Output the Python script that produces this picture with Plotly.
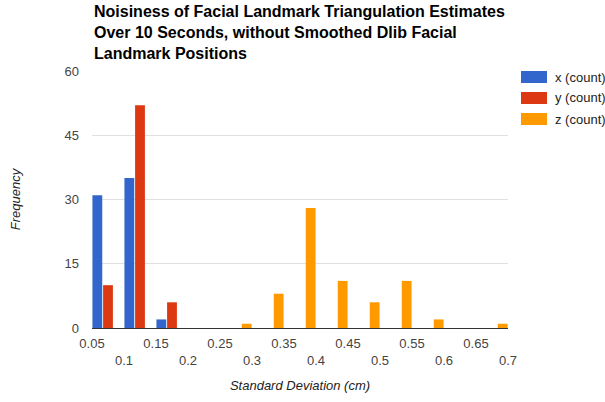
import plotly.graph_objects as go

bins = [0.075, 0.125, 0.175, 0.225, 0.275, 0.325, 0.375, 0.425, 0.475, 0.525, 0.575, 0.625, 0.675]
x_count = [31, 35, 2, 0, 0, 0, 0, 0, 0, 0, 0, 0, 0]
y_count = [10, 52, 6, 0, 0, 0, 0, 0, 0, 0, 0, 0, 0]
z_count = [0, 0, 0, 0, 1, 8, 28, 11, 6, 11, 2, 0, 1]
series_names = ["x (count)", "y (count)", "z (count)"]
colors = ["#3366cc", "#dc3912", "#ff9900"]
tick_vals = [0.05, 0.1, 0.15, 0.2, 0.25, 0.3, 0.35, 0.4, 0.45, 0.5, 0.55, 0.6, 0.65, 0.7]
tick_labels = ["0.05", "0.1", "0.15", "0.2", "0.25", "0.3", "0.35", "0.4", "0.45", "0.5", "0.55", "0.6", "0.65", "0.7"]
title_text = ("Noisiness of Facial Landmark Triangulation Estimates<br>"
              "Over 10 Seconds, without Smoothed Dlib Facial<br>Landmark Positions")

FONT = "Liberation Sans, Arial, sans-serif"
PL, PR, PT, PB = 92, 508, 71, 328
PW, PH = PR - PL, PB - PT

fig = go.Figure()
for name, vals, c in zip(series_names, [x_count, y_count, z_count], colors):
    fig.add_trace(go.Bar(x=bins, y=vals, name=name, marker=dict(color=c, line=dict(width=0)),
                         showlegend=False))

ticktext = [t if i % 2 == 0 else "<br>" + t for i, t in enumerate(tick_labels)]

fig.update_layout(
    width=605, height=402,
    margin=dict(l=PL, r=605 - PR, t=PT, b=402 - PB),
    paper_bgcolor="white", plot_bgcolor="white",
    barmode="group", bargap=0.0, bargroupgap=0.08,
    font=dict(family=FONT, size=13, color="#444"),
    xaxis=dict(range=[0.05, 0.7], tickmode="array", tickvals=tick_vals, ticktext=ticktext,
               showgrid=False, showline=True, linecolor="#333", linewidth=1,
               ticks="", zeroline=False, ticklabelstandoff=3,
               title=dict(text="<i>Standard Deviation (cm)</i>", font=dict(size=13, color="#222"), standoff=14)),
    yaxis=dict(range=[0, 60], tickvals=[0, 15, 30, 45, 60], showgrid=True, gridcolor="#e0e0e0",
               zeroline=False, showline=False, ticks="", ticklabelstandoff=12,
               title=dict(text="<i>Frequency</i>", font=dict(size=13, color="#222"), standoff=40)),
)

fig.add_annotation(xref="paper", yref="paper", x=0, y=(PB - 32.5) / PH,
                   text=title_text, showarrow=False, xanchor="left", yanchor="middle",
                   align="left", font=dict(family=FONT, size=16, color="#000", weight="bold"))

# legend drawn as swatches + labels
for i, (name, c) in enumerate(zip(series_names, colors)):
    yc = 77 + 21 * i
    fig.add_shape(type="rect", xref="paper", yref="paper",
                  x0=(521 - PL) / PW, x1=(547 - PL) / PW,
                  y0=(PB - (yc + 6)) / PH, y1=(PB - (yc - 6)) / PH,
                  fillcolor=c, line=dict(width=0))
    fig.add_annotation(xref="paper", yref="paper", x=(553 - PL) / PW, y=(PB - yc) / PH,
                       text=name, showarrow=False, xanchor="left", yanchor="middle",
                       font=dict(size=13, color="#222"))

fig.write_html("out.html")
